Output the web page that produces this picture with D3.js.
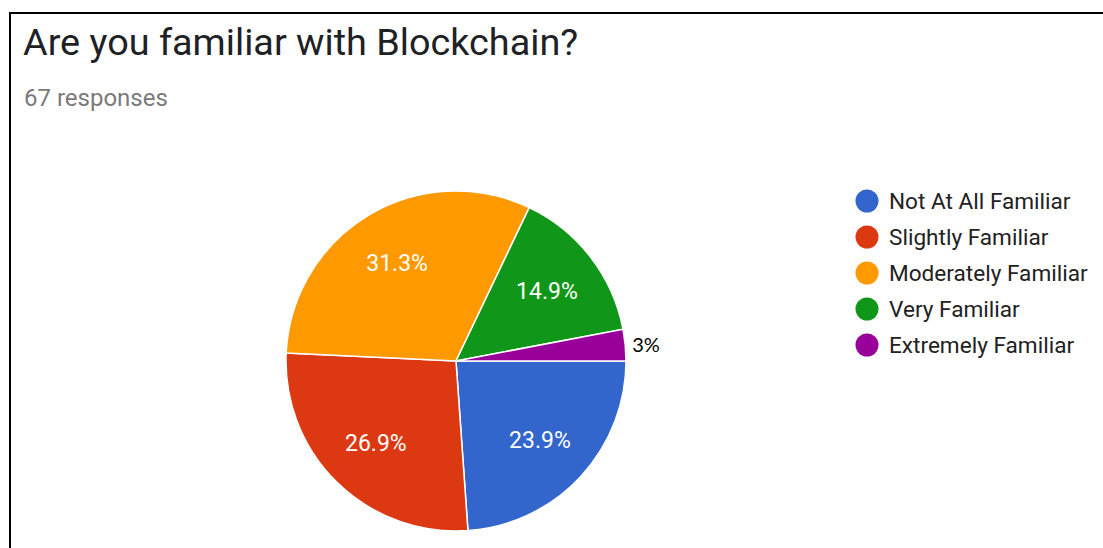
<!DOCTYPE html>
<html>
<head>
<meta charset="utf-8">
<script src="https://cdn.jsdelivr.net/npm/d3@7"></script>
<style>
  html, body { margin: 0; padding: 0; background: #fff; }
  svg { display: block; }
</style>
</head>
<body>
<svg id="chart" width="1103" height="548"></svg>
<script>
// Survey answers: "Are you familiar with Blockchain?"
const categories = ["Not At All Familiar", "Slightly Familiar", "Moderately Familiar", "Very Familiar", "Extremely Familiar"];
const counts = [16, 18, 21, 10, 2];
const colors = ["#3366cc", "#dc3912", "#ff9900", "#109618", "#990099"];
const title = "Are you familiar with Blockchain?";
const subtitle = "67 responses";

const svg = d3.select("#chart");
const total = d3.sum(counts);

// Card frame (left and top edges)
svg.append("path")
  .attr("d", "M10,548 L10,13 L1103,13")
  .attr("fill", "none")
  .attr("stroke", "#000")
  .attr("stroke-width", 2);

svg.append("text")
  .attr("x", 23).attr("y", 55)
  .attr("font-family", "Roboto, Arial, sans-serif")
  .attr("font-size", 37.8)
  .attr("fill", "#202124")
  .text(title);

svg.append("text")
  .attr("x", 24).attr("y", 106)
  .attr("font-family", "Roboto, Arial, sans-serif")
  .attr("font-size", 24)
  .attr("fill", "#7a7a7a")
  .text(subtitle);

// Pie
const cx = 456, cy = 361, r = 170;
const data = categories.map((c, i) => ({ name: c, value: counts[i], color: colors[i] }));
const pie = d3.pie().value(d => d.value).sort(null)
  .startAngle(Math.PI / 2).endAngle(Math.PI / 2 + 2 * Math.PI);
const arcs = pie(data);
const arc = d3.arc().innerRadius(0).outerRadius(r);
const labelArc = d3.arc().innerRadius(r * 0.675).outerRadius(r * 0.675);

const g = svg.append("g").attr("transform", `translate(${cx},${cy})`);
g.selectAll("path.slice").data(arcs).join("path")
  .attr("class", "slice")
  .attr("d", arc)
  .attr("fill", d => d.data.color)
  .attr("stroke", "#fff")
  .attr("stroke-width", 1.5);

const fmt = v => {
  const p = Math.round(v / total * 1000) / 10;
  return p + "%";
};

g.selectAll("text.pct").data(arcs.filter(d => d.data.value / total > 0.05)).join("text")
  .attr("class", "pct")
  .attr("transform", d => `translate(${labelArc.centroid(d)})`)
  .attr("text-anchor", "middle")
  .attr("dy", "0.36em")
  .attr("font-family", "Roboto, Arial, sans-serif")
  .attr("font-size", 23)
  .attr("fill", "#fff")
  .text(d => fmt(d.data.value));

// Small slice is labelled outside the pie
const small = arcs.filter(d => d.data.value / total <= 0.05);
g.selectAll("text.outside").data(small).join("text")
  .attr("class", "outside")
  .attr("x", d => Math.sin((d.startAngle + d.endAngle) / 2) * r + 7)
  .attr("y", d => -Math.cos((d.startAngle + d.endAngle) / 2) * r)
  .attr("dy", "0.36em")
  .attr("font-family", "Lato, 'Open Sans', sans-serif")
  .attr("font-size", 20)
  .attr("fill", "#000")
  .text(d => Math.round(d.data.value / total * 100) + "%");

// Legend
const legend = svg.append("g").attr("transform", "translate(867,201)");
const items = legend.selectAll("g").data(data).join("g")
  .attr("transform", (d, i) => `translate(0,${i * 36})`);
items.append("circle").attr("r", 11.5).attr("fill", d => d.color);
items.append("text")
  .attr("x", 22).attr("dy", "0.36em")
  .attr("font-family", "Roboto, Arial, sans-serif")
  .attr("font-size", 22.6)
  .attr("fill", "#222")
  .text(d => d.name);
</script>
</body>
</html>
